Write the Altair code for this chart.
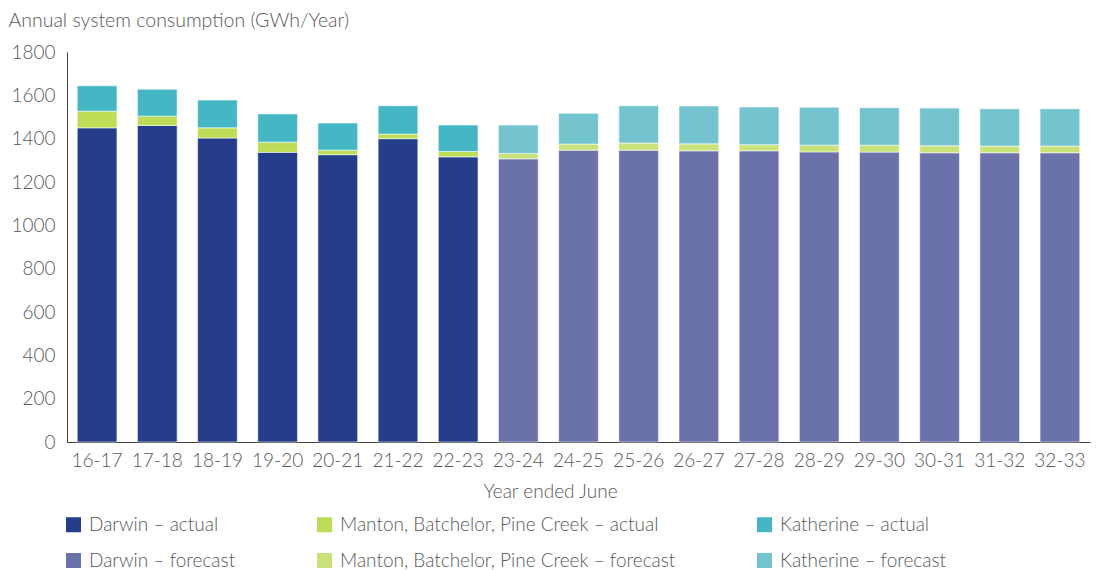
import altair as alt
import pandas as pd

years = ["16-17", "17-18", "18-19", "19-20", "20-21", "21-22", "22-23", "23-24", "24-25",
         "25-26", "26-27", "27-28", "28-29", "29-30", "30-31", "31-32", "32-33"]
n_actual = 7

darwin = [1450, 1461, 1403, 1337, 1326, 1400, 1316, 1307, 1347, 1347, 1344, 1344, 1339, 1338, 1335, 1335, 1335]
manton = [77, 43, 47, 47, 21, 21, 25, 25, 28, 33, 32, 28, 31, 32, 32, 31, 31]
katherine = [117, 124, 128, 130, 125, 131, 122, 131, 142, 172, 175, 174, 175, 173, 174, 172, 172]

series_names = [
    "Darwin – actual", "Manton, Batchelor, Pine Creek – actual", "Katherine – actual",
    "Darwin – forecast", "Manton, Batchelor, Pine Creek – forecast", "Katherine – forecast",
]
series_colors = ["#243E8C", "#BCDD55", "#45B7C4", "#6B71AB", "#C9E37A", "#74C4CF"]

rows = []
for i, y in enumerate(years):
    kind = "actual" if i < n_actual else "forecast"
    for k, (base, vals) in enumerate([("Darwin", darwin), ("Manton, Batchelor, Pine Creek", manton), ("Katherine", katherine)]):
        rows.append({"year": y, "series": f"{base} – {kind}", "value": vals[i], "stack": k})
df = pd.DataFrame(rows)

FONT = "Lato"
TXT = "#595959"

chart = alt.Chart(df).mark_bar(stroke="white", strokeWidth=0.8, strokeOpacity=0.7).encode(
    x=alt.X("year:N", sort=years,
            scale=alt.Scale(paddingInner=0.34, paddingOuter=0.17),
            axis=alt.Axis(title="Year ended June", labelAngle=0, ticks=False,
                          domainColor="#404040", domainWidth=1,
                          labelFont=FONT, labelFontSize=19, labelFontWeight=300, labelColor=TXT,
                          labelPadding=9,
                          titleFont=FONT, titleFontSize=19, titleFontWeight=300, titleColor=TXT,
                          titleX=483, titleY=55, titleBaseline="alphabetic", titleAlign="center")),
    y=alt.Y("value:Q", stack="zero",
            scale=alt.Scale(domain=[0, 1800], nice=False),
            axis=alt.Axis(title="Annual system consumption (GWh/Year)", values=list(range(0, 1801, 200)),
                          format="d",
                          ticks=False, grid=False, domainColor="#404040", domainWidth=1,
                          labelFont=FONT, labelFontSize=19, labelFontWeight=300, labelColor=TXT,
                          labelPadding=12,
                          titleFont=FONT, titleFontSize=19.5, titleFontWeight=300, titleColor=TXT,
                          titleAngle=0, titleAlign="left", titleBaseline="alphabetic",
                          titleX=-59, titleY=-26)),
    color=alt.Color("series:N",
                    scale=alt.Scale(domain=series_names, range=series_colors),
                    legend=alt.Legend(title=None, orient="none", legendX=-3, legendY=463,
                                      columns=3, direction="horizontal",
                                      symbolType="square", symbolSize=225, symbolStrokeWidth=0,
                                      symbolOffset=0, labelOffset=6,
                                      columnPadding=79, rowPadding=16,
                                      labelFont=FONT, labelFontSize=19, labelFontWeight=300,
                                      labelColor=TXT, labelLimit=500)),
    order=alt.Order("stack:Q", sort="ascending"),
).properties(
    width=1023, height=390,
    autosize=alt.AutoSizeParams(type="none"),
    padding={"left": 59, "top": 44, "right": 8, "bottom": 128},
).configure_view(stroke=None)

chart.save("out.html", embed_options={"renderer": "svg", "actions": False})
